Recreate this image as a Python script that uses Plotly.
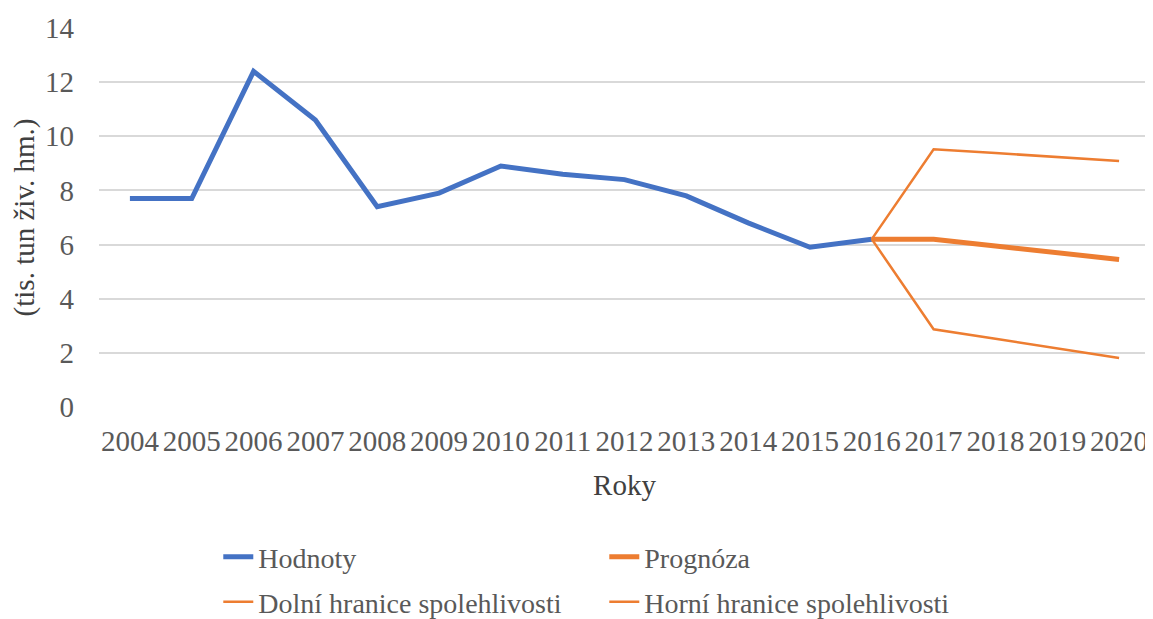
import plotly.graph_objects as go

years = [str(y) for y in range(2004, 2021)]
hist_years = [str(y) for y in range(2004, 2017)]
hodnoty = [7.7, 7.7, 12.4, 10.6, 7.4, 7.9, 8.9, 8.6, 8.4, 7.8, 6.8, 5.9, 6.2]
fc_years = ["2016", "2017", "2018", "2019", "2020"]
prognoza = [6.2, 6.2, 5.95, 5.7, 5.45]
dolni = [6.2, 2.87, 2.52, 2.17, 1.81]
horni = [6.2, 9.52, 9.38, 9.24, 9.09]

BLUE = "#4472C4"
ORANGE = "#ED7D31"
FONT = "Liberation Serif"
TXT = "#595959"

W, H = 1145, 611

fig = go.Figure()
fig.add_trace(go.Scatter(x=hist_years, y=hodnoty, mode="lines", name="Hodnoty",
                         line=dict(color=BLUE, width=5), legend="legend"))
fig.add_trace(go.Scatter(x=fc_years, y=prognoza, mode="lines", name="Prognóza",
                         line=dict(color=ORANGE, width=5), legend="legend"))
fig.add_trace(go.Scatter(x=fc_years, y=dolni, mode="lines", name="Dolní hranice spolehlivosti",
                         line=dict(color=ORANGE, width=2.5), legend="legend2"))
fig.add_trace(go.Scatter(x=fc_years, y=horni, mode="lines", name="Horní hranice spolehlivosti",
                         line=dict(color=ORANGE, width=2.5), legend="legend2"))

legend_common = dict(orientation="h", xanchor="left", yanchor="middle", yref="container",
                     font=dict(family=FONT, size=28, color=TXT),
                     entrywidth=341, entrywidthmode="pixels",
                     bgcolor="rgba(0,0,0,0)", itemclick=False, itemdoubleclick=False)

fig.update_layout(
    width=W, height=H,
    margin=dict(l=91, r=3, t=20, b=212),
    paper_bgcolor="white", plot_bgcolor="white",
    font=dict(family=FONT, size=29, color=TXT),
    xaxis=dict(type="category", categoryorder="array", categoryarray=years,
               range=[-0.5, 16.5], showgrid=False, zeroline=False, showline=False,
               automargin=False,
               ticks="", tickfont=dict(size=29, color=TXT),
               ticklabelstandoff=14,
               title=dict(text="Roky", font=dict(size=29, color="#404040"), standoff=18)),
    yaxis=dict(range=[0, 14], dtick=2, showgrid=True, gridcolor="#D9D9D9", gridwidth=1.5,
               zeroline=False, showline=False, ticks="", tickfont=dict(size=29, color=TXT),
               automargin=False,
               ticklabelstandoff=24,
               title=dict(text="(tis. tun živ. hm.)", font=dict(size=29, color="#404040"), standoff=8)),
    legend=dict(x=0.1135, y=1 - 549 / H, **legend_common),
    legend2=dict(x=0.1135, y=1 - 594 / H, **legend_common),
)

fig.write_html("out.html")
